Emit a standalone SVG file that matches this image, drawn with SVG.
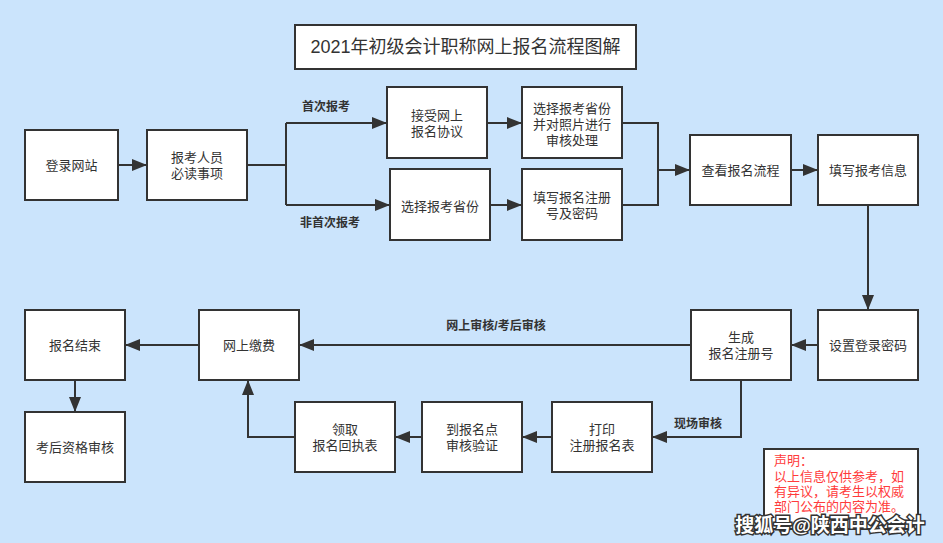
<svg xmlns="http://www.w3.org/2000/svg" width="943" height="543" viewBox="0 0 943 543">
<defs>
<style>
.n rect{fill:#fff;stroke:#333;stroke-width:2}
.n text,.t{font-family:"Liberation Sans","Noto Sans CJK SC",sans-serif;font-size:13px;fill:#333;text-anchor:middle}
.c path{fill:none;stroke:#333;stroke-width:2}
.lb{font-family:"Liberation Sans","Noto Sans CJK SC",sans-serif;font-size:12px;font-weight:bold;fill:#333}
.red{font-family:"Liberation Sans","Noto Sans CJK SC",sans-serif;font-size:13px;fill:#ff3b3b}
</style>
<marker id="ah" markerUnits="userSpaceOnUse" markerWidth="15" markerHeight="12" refX="15" refY="6" orient="auto">
<path d="M0,0 L15,6 L0,12 z" fill="#333"/>
</marker>
</defs>
<rect width="943" height="543" fill="#cbe4fc"/>
<g id="title">
<rect x="295" y="25" width="341" height="44" fill="#fff" stroke="#333" stroke-width="2"/>
<text x="465.5" y="53" style="font-family:'Liberation Sans','Noto Sans CJK SC',sans-serif;font-size:18px;fill:#333;text-anchor:middle">2021年初级会计职称网上报名流程图解</text>
</g>
<g class="c" id="connectors">
<path d="M118,165 H147" marker-end="url(#ah)"/>
<path d="M247,165 H286 M286,123 V205"/>
<path d="M286,123 H387" marker-end="url(#ah)"/>
<path d="M286,205 H390" marker-end="url(#ah)"/>
<path d="M487,123 H522" marker-end="url(#ah)"/>
<path d="M490,205 H522" marker-end="url(#ah)"/>
<path d="M622,123 H658 V205 H622"/>
<path d="M658,170 H690" marker-end="url(#ah)"/>
<path d="M791,170 H818" marker-end="url(#ah)"/>
<path d="M868,205 V310" marker-end="url(#ah)"/>
<path d="M818,345 H791" marker-end="url(#ah)"/>
<path d="M691,345 H299" marker-end="url(#ah)"/>
<path d="M199,345 H125" marker-end="url(#ah)"/>
<path d="M75,380 V412" marker-end="url(#ah)"/>
<path d="M741,380 V437 H652" marker-end="url(#ah)"/>
<path d="M552,437 H522" marker-end="url(#ah)"/>
<path d="M422,437 H395" marker-end="url(#ah)"/>
<path d="M295,437 H248 V380" marker-end="url(#ah)"/>
</g>
<g id="labels">
<text class="lb" x="326" y="111" text-anchor="middle">首次报考</text>
<text class="lb" x="330" y="227" text-anchor="middle">非首次报考</text>
<text class="lb" x="496" y="330" text-anchor="middle">网上审核/考后审核</text>
<text class="lb" x="698" y="428" text-anchor="middle">现场审核</text>
</g>
<g class="n" id="n1"><rect x="25" y="130" width="93" height="70"/><text x="71.5" y="170">登录网站</text></g>
<g class="n" id="n2"><rect x="147" y="130" width="100" height="70"/><text x="197" y="162">报考人员</text><text x="197" y="178">必读事项</text></g>
<g class="n" id="n3"><rect x="387" y="87" width="100" height="71"/><text x="437" y="120">接受网上</text><text x="437" y="136">报名协议</text></g>
<g class="n" id="n4"><rect x="390" y="169" width="100" height="71"/><text x="440" y="211">选择报考省份</text></g>
<g class="n" id="n5"><rect x="522" y="87" width="100" height="71"/><text x="572" y="113">选择报考省份</text><text x="572" y="129">并对照片进行</text><text x="572" y="145">审核处理</text></g>
<g class="n" id="n6"><rect x="522" y="169" width="100" height="71"/><text x="572" y="202">填写报名注册</text><text x="572" y="218">号及密码</text></g>
<g class="n" id="n7"><rect x="690" y="135" width="101" height="70"/><text x="740.5" y="175">查看报名流程</text></g>
<g class="n" id="n8"><rect x="818" y="135" width="100" height="70"/><text x="868" y="175">填写报考信息</text></g>
<g class="n" id="n9"><rect x="818" y="310" width="100" height="70"/><text x="868" y="350">设置登录密码</text></g>
<g class="n" id="n10"><rect x="691" y="310" width="100" height="70"/><text x="741" y="342">生成</text><text x="741" y="358">报名注册号</text></g>
<g class="n" id="n11"><rect x="199" y="310" width="100" height="70"/><text x="249" y="350">网上缴费</text></g>
<g class="n" id="n12"><rect x="25" y="310" width="100" height="70"/><text x="75" y="350">报名结束</text></g>
<g class="n" id="n13"><rect x="25" y="412" width="100" height="70"/><text x="75" y="452">考后资格审核</text></g>
<g class="n" id="n14"><rect x="552" y="402" width="100" height="70"/><text x="602" y="434">打印</text><text x="602" y="450">注册报名表</text></g>
<g class="n" id="n15"><rect x="422" y="402" width="100" height="70"/><text x="472" y="434">到报名点</text><text x="472" y="450">审核验证</text></g>
<g class="n" id="n16"><rect x="295" y="402" width="100" height="70"/><text x="345" y="434">领取</text><text x="345" y="450">报名回执表</text></g>
<g id="notice">
<rect x="764" y="449" width="154" height="80" fill="#fff" stroke="#333" stroke-width="2"/>
<text class="red" x="774" y="465">声明：</text>
<text class="red" x="774" y="481">以上信息仅供参考，如</text>
<text class="red" x="774" y="496">有异议，请考生以权威</text>
<text class="red" x="774" y="511">部门公布的内容为准。</text>
</g>
<text x="830" y="532" style="font-family:'Liberation Sans','Noto Sans CJK SC',sans-serif;font-size:19px;font-weight:bold;fill:#fff;stroke:#333;stroke-width:3;paint-order:stroke;text-anchor:middle">搜狐号@陕西中公会计</text>
</svg>
